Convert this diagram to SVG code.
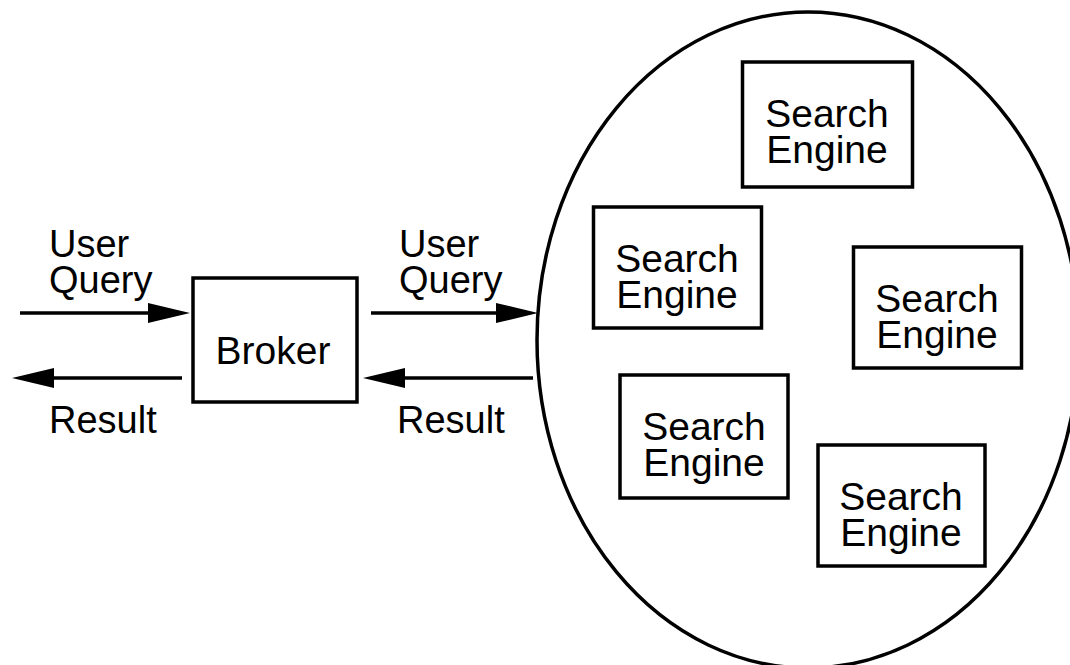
<svg xmlns="http://www.w3.org/2000/svg" width="1070" height="665" viewBox="0 0 1070 665">
<defs>
<style>
.box{fill:#fff;stroke:#000;stroke-width:3.5}
.t{font-family:"Liberation Sans",Arial,Helvetica,sans-serif;font-size:39px;fill:#000;text-anchor:middle}
.lbl{font-family:"Liberation Sans",Arial,Helvetica,sans-serif;font-size:38px;fill:#000}
.ln{stroke:#000;stroke-width:3.5;fill:none;marker-end:url(#ah)}
</style>
<marker id="ah" viewBox="0 0 42 20" refX="0" refY="10" markerWidth="42" markerHeight="20" markerUnits="userSpaceOnUse" orient="auto">
<path d="M0,0 L42,10 L0,20 z" fill="#000"/>
</marker>
</defs>
<rect width="1070" height="665" fill="#fff"/>
<g id="cluster">
<ellipse cx="808" cy="340" rx="271" ry="328" fill="none" stroke="#000" stroke-width="3.5"/>
</g>
<g id="broker">
<rect class="box" x="193" y="278" width="164" height="124"/>
<text class="t" x="273" y="364">Broker</text>
</g>
<g id="se1">
<rect class="box" x="742.5" y="62" width="170" height="125"/>
<text class="t" x="827" y="127">Search</text>
<text class="t" x="827" y="163">Engine</text>
</g>
<g id="se2">
<rect class="box" x="593.5" y="207" width="168" height="121"/>
<text class="t" x="677" y="272">Search</text>
<text class="t" x="677" y="308">Engine</text>
</g>
<g id="se3">
<rect class="box" x="853.5" y="247" width="168" height="121"/>
<text class="t" x="937" y="312">Search</text>
<text class="t" x="937" y="348">Engine</text>
</g>
<g id="se4">
<rect class="box" x="620" y="375" width="168" height="123"/>
<text class="t" x="704" y="440">Search</text>
<text class="t" x="704" y="476">Engine</text>
</g>
<g id="se5">
<rect class="box" x="818" y="445" width="167" height="121"/>
<text class="t" x="901" y="510">Search</text>
<text class="t" x="901" y="546">Engine</text>
</g>
<g id="connectors">
<line class="ln" x1="20" y1="313" x2="148" y2="313"/>
<line class="ln" x1="182" y1="378" x2="54" y2="378"/>
<line class="ln" x1="371" y1="313" x2="496" y2="313"/>
<line class="ln" x1="533" y1="378" x2="405" y2="378"/>
</g>
<g id="labels">
<text class="lbl" x="49" y="257">User</text>
<text class="lbl" x="49" y="293">Query</text>
<text class="lbl" x="49" y="433">Result</text>
<text class="lbl" x="399" y="257">User</text>
<text class="lbl" x="399" y="293">Query</text>
<text class="lbl" x="397" y="433">Result</text>
</g>
</svg>
